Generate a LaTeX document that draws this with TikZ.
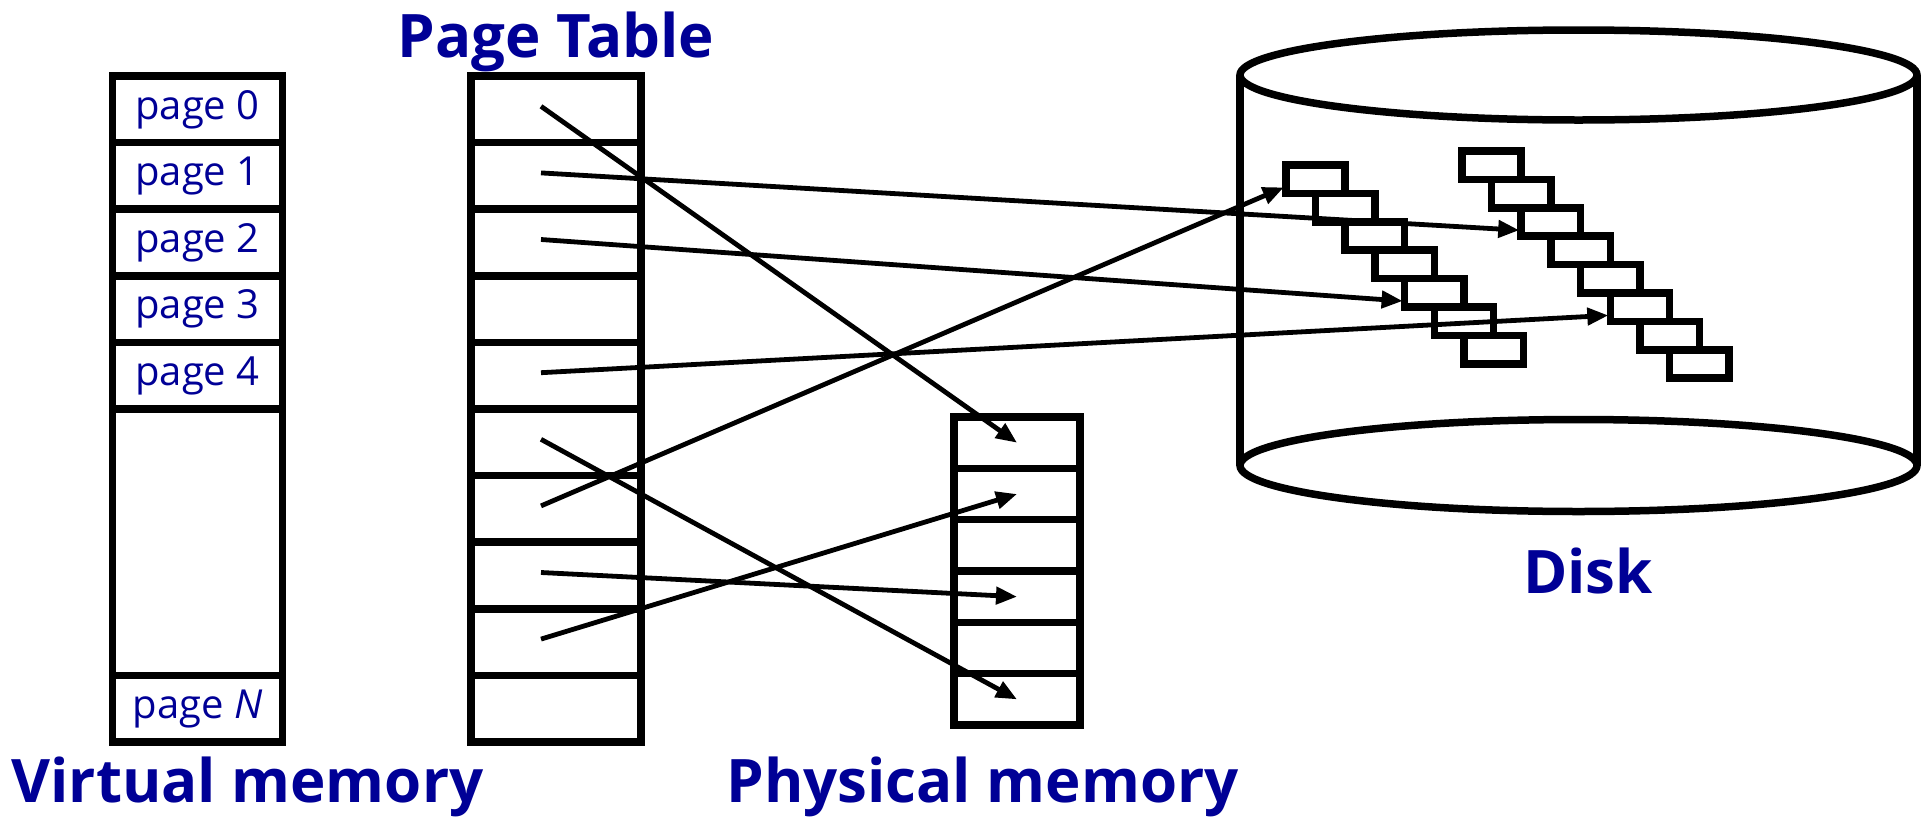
\documentclass[tikz,border=0pt]{standalone}
\usepackage{fontspec}
\setmainfont{Open Sans}
\usetikzlibrary{arrows.meta, positioning, calc}
\definecolor{labelblue}{RGB}{0,0,150}

\tikzset{
  cell/.style={draw, line width=7.5pt, minimum width=170pt, minimum height=66.6pt,
    inner sep=0pt, outer sep=0pt, text=labelblue, font=\fontsize{40}{44}\selectfont},
  frame/.style={cell, minimum width=126pt, minimum height=51.33pt},
  block/.style={draw, line width=7.5pt, minimum width=59.4pt, minimum height=28.4pt,
    inner sep=0pt, outer sep=0pt},
  title/.style={text=labelblue, font=\fontsize{60}{66}\selectfont\bfseries,
    anchor=base, inner sep=0pt},
  ptr/.style={->, line width=4.8pt},
}

\begin{document}
\begin{tikzpicture}[>={Triangle[length=21pt,width=17pt]}, x=1pt, y=-1pt]
\useasboundingbox (0,0) rectangle (1930,817);
% virtual memory
\foreach \i in {0,...,4}
  \node[cell] (vm\i) at (197.5, 109.3+66.6*\i) {page \i};
\node[cell, minimum height=266.4pt] (vmgap) at (197.5, 542.2) {};
\node[cell] (vmN) at (197.5, 708.7) {page \textit{N}};
\node[title] (vmlabel) at (247.5, 802) {Virtual memory};
%
% page table and physical memory
\foreach \i in {0,...,9}
  \node[cell] (pt\i) at (556, 109.3+66.6*\i) {};
\node[title] (ptlabel) at (556, 57) {Page Table};
\foreach \i in {0,...,5}
  \node[frame] (pm\i) at (1017, 442.7+51.33*\i) {};
\node[title] (pmlabel) at (982.5, 802) {Physical memory};
%
% disk with two runs of blocks
\draw[line width=7.5pt] (1578.5, 75) ellipse [x radius=338.5, y radius=45];
\draw[line width=7.5pt] (1578.5, 465.5) ellipse [x radius=338.5, y radius=46];
\draw[line width=7.5pt] (1240, 75) -- (1240, 465.5) (1917, 75) -- (1917, 465.5);
\foreach \i in {0,...,6}
  \node[block] (la\i) at (1315.5+29.7*\i, 179.2+28.4*\i) {};
\foreach \i in {0,...,7}
  \node[block] (ra\i) at (1491.5+29.7*\i, 165.2+28.4*\i) {};
\node[title] (disklabel) at (1588, 593) {Disk};
%
% page table entries
\foreach \s/\t in {pt0/pm0, pt5/pm5, pt7/pm3, pt8/pm1}
  \draw[ptr] ($(\s.center)+(-15,-3)$) -- (\t.center);
\foreach \s/\t in {pt1/ra2, pt2/la4, pt4/ra5, pt6/la0}
  \draw[ptr] ($(\s.center)+(-15,-3)$) -- ($(\t.south west)+(-2,-6)$);
\end{tikzpicture}
\end{document}
